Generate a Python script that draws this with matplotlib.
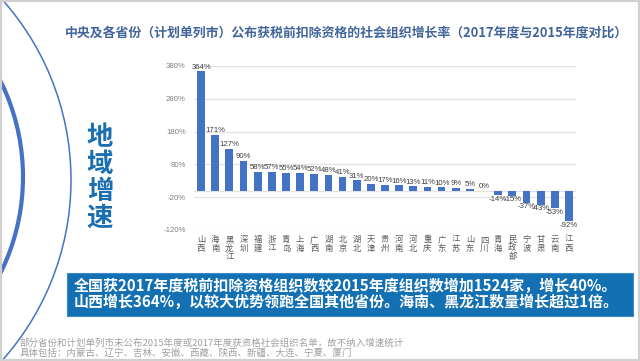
import matplotlib
matplotlib.use("Agg")
import matplotlib.pyplot as plt
from matplotlib.patches import Circle, Rectangle

plt.rcParams['font.family'] = ['Noto Sans CJK SC', 'DejaVu Sans']

# ---------------- data ----------------
categories = ['山西', '海南', '黑龙江', '深圳', '福建', '浙江', '青岛', '上海', '广西',
              '湖南', '北京', '湖北', '天津', '贵州', '河南', '河北', '重庆', '广东',
              '江苏', '山东', '四川', '青海', '民政部', '宁波', '甘肃', '云南', '江西']
values = [364, 171, 127, 90, 58, 57, 55, 54, 52, 48, 41, 31, 20, 17, 16, 13, 11, 10,
          9, 5, 0, -14, -15, -37, -43, -53, -92]
yticks = [-120, -20, 80, 180, 280, 380]

title = '中央及各省份（计划单列市）公布获税前扣除资格的社会组织增长率（2017年度与2015年度对比）'
side_title = '地域增速'
box_lines = ['全国获2017年度税前扣除资格组织数较2015年度组织数增加1524家，增长40%。',
             '山西增长364%，以较大优势领跑全国其他省份。海南、黑龙江数量增长超过1倍。']
foot_lines = ['部分省份和计划单列市未公布2015年度或2017年度获资格社会组织名单，故不纳入增速统计',
              '具体包括：内蒙古、辽宁、吉林、安徽、西藏、陕西、新疆、大连、宁夏、厦门']

W, H = 640, 361
fig = plt.figure(figsize=(6.4, 3.61), dpi=100)
fig.patch.set_facecolor('white')

# background overlay in pixel coords
bg = fig.add_axes([0, 0, 1, 1], zorder=0)
bg.set_xlim(0, W)
bg.set_ylim(H, 0)
bg.axis('off')
bg.add_patch(Circle((-200, 180), 271, fill=False, ec='#4472C4', lw=1.1))
bg.add_patch(Circle((-193, 177), 216, fill=False, ec='#4472C4', lw=3.0))
bg.add_patch(Rectangle((0.8, 0.8), W - 1.6, H - 1.6, fill=False, ec='#d0d0d0', lw=1.6))
# blue text box
bg.add_patch(Rectangle((67, 273), 566, 43, fc='#1370b2', ec='#3a8ac8', lw=0.8))

# ---------------- chart ----------------
left, right = 194 / W, 576 / W
bottom, top = (H - 230) / H, (H - 66) / H
ax = fig.add_axes([left, bottom, right - left, top - bottom], zorder=2)
ax.patch.set_alpha(0)
x = list(range(len(categories)))
ax.bar(x, values, width=0.55, color='#4472C4', zorder=3)
ax.set_xlim(-0.5, len(categories) - 0.5)
ax.set_ylim(yticks[0], yticks[-1])
ax.set_yticks(yticks)
ax.set_yticklabels([f'{v}%' for v in yticks], fontsize=5.6, color='#7f7f7f',
                   family=['Liberation Sans', 'DejaVu Sans'])
ax.tick_params(axis='y', length=0, pad=6)
ax.tick_params(axis='x', length=0)
ax.set_xticks([])
for s in ax.spines.values():
    s.set_visible(False)
ax.grid(axis='y', color='#e3e3e3', lw=0.9, zorder=0)
ax.axhline(0, color='#e3e3e3', lw=0.9, zorder=1)

for xi, v in zip(x, values):
    if v >= 0:
        ax.annotate(f'{v}%', (xi, v), xytext=(0, 0.5), textcoords='offset points',
                    ha='center', va='bottom', fontsize=5.6, color='#404040',
                    family=['Liberation Sans', 'DejaVu Sans'])
    else:
        ax.annotate(f'{v}%', (xi, v), xytext=(0, -0.5), textcoords='offset points',
                    ha='center', va='top', fontsize=5.6, color='#404040',
                    family=['Liberation Sans', 'DejaVu Sans'])

for xi, name in zip(x, categories):
    ax.annotate('\n'.join(name), (xi, yticks[0]), xytext=(0, -3.5), textcoords='offset points',
                ha='center', va='top', fontsize=6, color='#595959', linespacing=0.95)

# ---------------- texts ----------------
fig.text(346 / W, 1 - 33 / H, title, ha='center', va='center', fontsize=9.3,
         fontweight='bold', color='#41659a')
fig.text(100 / W, 1 - 178 / H, '\n'.join(side_title), ha='center', va='center',
         fontsize=19, fontweight='bold', color='#1a6fb0', linespacing=0.98)
fig.text(74 / W, 1 - 286 / H, box_lines[0], ha='left', va='center', fontsize=10.8,
         fontweight='bold', color='white')
fig.text(74 / W, 1 - 302 / H, box_lines[1], ha='left', va='center', fontsize=10.8,
         fontweight='bold', color='white')
fig.text(20 / W, 1 - 343 / H, foot_lines[0], ha='left', va='center', fontsize=6.8,
         color='#a0a0a0')
fig.text(20 / W, 1 - 353 / H, foot_lines[1], ha='left', va='center', fontsize=6.8,
         color='#a0a0a0')

fig.savefig('out.png', dpi=100)
